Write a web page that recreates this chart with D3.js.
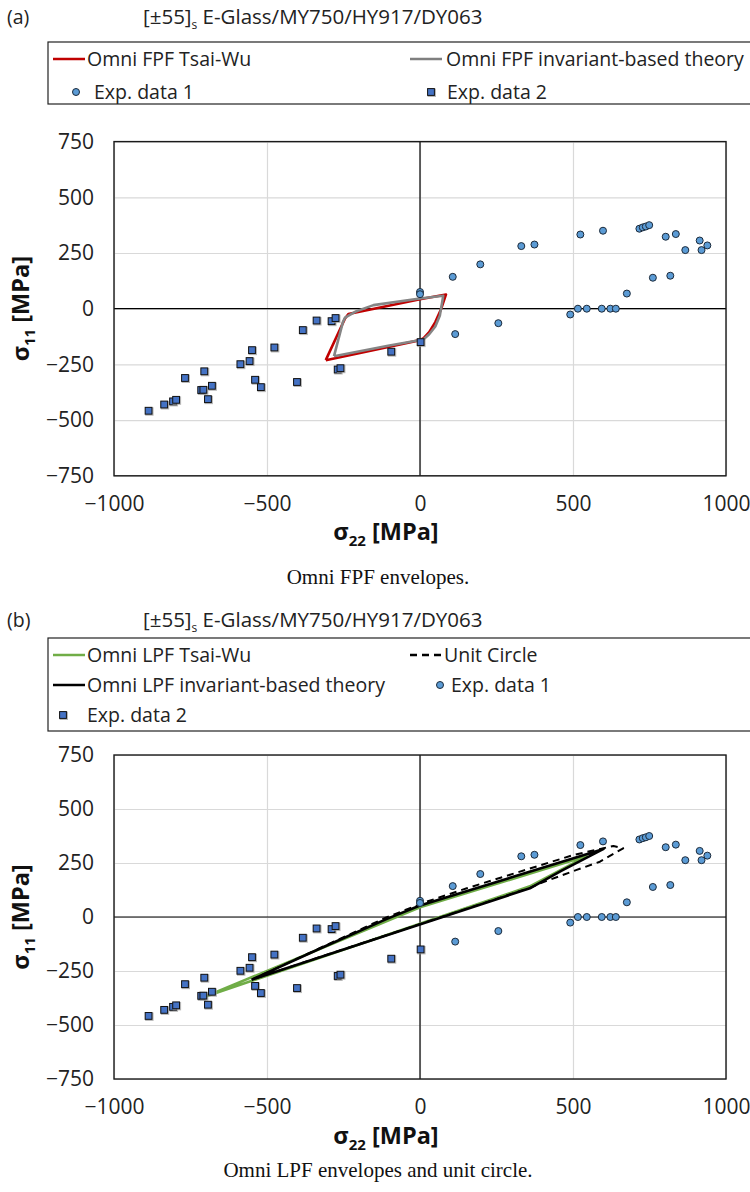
<!DOCTYPE html>
<html><head><meta charset="utf-8">
<script src="https://cdn.jsdelivr.net/npm/d3@7"></script>
<style>body{margin:0;background:#fff} svg{display:block}</style>
</head><body>
<script>
// Axis ticks (MPa)
const xTicks = [-1000, -500, 0, 500, 1000];
const yTicks = [-750, -500, -250, 0, 250, 500, 750];

// Experimental failure points [sigma22, sigma11]
const expData1 = [
  [0, 75], [0, 65], [107, 143], [197, 199], [331, 281], [374, 288], [524, 333], [598, 350],
  [717, 359], [728, 365], [738, 369], [749, 375], [803, 323], [836, 335], [867, 263],
  [914, 306], [920, 263], [939, 284], [761, 139], [818, 148], [676, 68], [491, -26],
  [516, 0], [545, 0], [594, 0], [622, 0], [640, 0], [256, -65], [115, -114]
];
const expData2 = [
  [-887, -458], [-836, -430], [-807, -416], [-797, -409], [-768, -311], [-705, -281],
  [-715, -365], [-708, -364], [-680, -346], [-693, -406], [-587, -249], [-557, -235],
  [-549, -186], [-539, -319], [-520, -352], [-476, -174], [-402, -329], [-383, -96],
  [-338, -53], [-289, -56], [-276, -42], [-269, -273], [-260, -267], [-94, -193], [2, -150]
];

// First-ply-failure envelopes
const fpfTsaiWu = [
  [-308, -231], [-245, -44], [-234, -24], [-150, 0], [0, 42], [85, 64], [68, -5],
  [50, -60], [30, -105], [12, -132], [0, -141], [-100, -171], [-200, -200], [-308, -231]
];
const fpfInvariant = [
  [-281, -213], [-252, -60], [-245, -40], [-212, -14], [-152, 16], [0, 46], [76, 58],
  [65, -30], [50, -80], [30, -115], [11, -138], [-100, -165], [-281, -213]
];

// Last-ply-failure envelopes
const lpfTsaiWu = [[-703, -369], [0, 45], [545, 282], [359, 142], [-703, -369]];
const lpfInvariant = [
  [-550, -290], [-330, -148], [-110, -10], [0, 53], [600, 315], [460, 212], [359, 133], [-550, -290]
];
const unitCircle = [
  [-550, -290], [-110, -2], [22, 71], [153, 133], [501, 287], [632, 329], [664, 318],
  [588, 256], [512, 218], [392, 156], [359, 135], [-550, -290]
];

const W = 750, H = 1192;
const svg = d3.select("body").append("svg").attr("width", W).attr("height", H);
svg.append("rect").attr("width", W).attr("height", H).attr("fill", "#fff");

const SANS = "'Open Sans', sans-serif";
const SERIF = "'Liberation Serif', 'Times New Roman', serif";
const fmt = d3.format("d");

function marker(g, type, cx, cy) {
  if (type === "circle") {
    g.append("circle").attr("cx", cx).attr("cy", cy).attr("r", 3.5)
      .attr("fill", "#5b9bd5").attr("stroke", "#1c2a3a").attr("stroke-width", 1);
  } else {
    const s = 6.8;
    g.append("rect").attr("x", cx - s / 2 + 0.8).attr("y", cy - s / 2 + 0.8).attr("width", s).attr("height", s)
      .attr("fill", "none").attr("stroke", "#9a9a9a").attr("stroke-width", 1.6).attr("opacity", 0.7);
    g.append("rect").attr("x", cx - s / 2).attr("y", cy - s / 2).attr("width", s).attr("height", s)
      .attr("fill", "#4472c4").attr("stroke", "#111").attr("stroke-width", 1);
  }
}

function drawPanel(p) {
  const x = d3.scaleLinear().domain([-1000, 1000]).range([114, 726]);
  const y = d3.scaleLinear().domain([-750, 750]).range([p.bottom, p.top]);
  const g = svg.append("g");

  // panel letter and title
  g.append("text").attr("x", 7).attr("y", p.titleY).attr("font-family", SANS).attr("font-size", 19.5)
    .attr("fill", "#222").text(p.letter);
  const t = g.append("text").attr("x", 143).attr("y", p.titleY).attr("font-family", SANS)
    .attr("font-size", 20.5).attr("fill", "#222");
  t.append("tspan").text("[±55]");
  t.append("tspan").attr("font-size", 12).attr("dy", 5).text("s");
  t.append("tspan").attr("dy", -5).text(" E-Glass/MY750/HY917/DY063");

  // legend box
  g.append("rect").attr("x", 48).attr("y", p.legTop).attr("width", 760).attr("height", p.legH)
    .attr("fill", "#fff").attr("stroke", "#222").attr("stroke-width", 1.2);
  p.legend.forEach(it => {
    const lg = g.append("g");
    if (it.kind === "line") {
      lg.append("line").attr("x1", it.x).attr("x2", it.x + 32).attr("y1", it.y).attr("y2", it.y)
        .attr("stroke", it.color).attr("stroke-width", 2.5)
        .attr("stroke-dasharray", it.dash || null);
    } else {
      marker(lg, it.kind, it.mx, it.y);
    }
    lg.append("text").attr("x", it.tx).attr("y", it.y).attr("dy", "0.35em")
      .attr("font-family", SANS).attr("font-size", 19.5).attr("fill", "#222").text(it.label);
  });

  // gridlines
  g.append("g").attr("transform", `translate(0,${p.bottom})`)
    .call(d3.axisBottom(x).tickValues(xTicks).tickSize(-(p.bottom - p.top)).tickFormat(""))
    .call(a => a.select(".domain").remove())
    .call(a => a.selectAll("line").attr("stroke", "#d9d9d9").attr("stroke-width", 1.2));
  g.append("g").attr("transform", "translate(114,0)")
    .call(d3.axisLeft(y).tickValues(yTicks).tickSize(-(726 - 114)).tickFormat(""))
    .call(a => a.select(".domain").remove())
    .call(a => a.selectAll("line").attr("stroke", "#d9d9d9").attr("stroke-width", 1.2));

  // zero axes
  g.append("line").attr("x1", x(0)).attr("x2", x(0)).attr("y1", p.top).attr("y2", p.bottom)
    .attr("stroke", "#000").attr("stroke-width", 1.2);
  g.append("line").attr("x1", 114).attr("x2", 726).attr("y1", y(0)).attr("y2", y(0))
    .attr("stroke", "#000").attr("stroke-width", 1.2);

  // plot frame
  g.append("rect").attr("x", 114).attr("y", p.top).attr("width", 612).attr("height", p.bottom - p.top)
    .attr("fill", "none").attr("stroke", "#1a1a1a").attr("stroke-width", 1.4);

  // tick labels
  g.append("g").attr("transform", `translate(0,${p.bottom})`)
    .call(d3.axisBottom(x).tickValues(xTicks).tickSize(0).tickPadding(20).tickFormat(fmt))
    .call(a => a.select(".domain").remove())
    .call(a => a.selectAll("text").attr("font-family", SANS).attr("font-size", 21).attr("fill", "#222"));
  g.append("g").attr("transform", "translate(114,0)")
    .call(d3.axisLeft(y).tickValues(yTicks).tickSize(0).tickPadding(20).tickFormat(fmt))
    .call(a => a.select(".domain").remove())
    .call(a => a.selectAll("text").attr("font-family", SANS).attr("font-size", 21).attr("fill", "#222"));

  // axis titles
  const xt = g.append("text").attr("x", 386).attr("y", p.xTitleY).attr("text-anchor", "middle")
    .attr("font-family", SANS).attr("font-weight", "bold").attr("font-size", 23.5).attr("fill", "#111");
  xt.append("tspan").text("σ");
  xt.append("tspan").attr("font-size", 15).attr("dy", 6).text("22");
  xt.append("tspan").attr("dy", -6).text(" [MPa]");
  const yt = g.append("text").attr("transform", `translate(29,${(p.top + p.bottom) / 2}) rotate(-90)`)
    .attr("text-anchor", "middle").attr("font-family", SANS).attr("font-weight", "bold")
    .attr("font-size", 23.5).attr("fill", "#111");
  yt.append("tspan").text("σ");
  yt.append("tspan").attr("font-size", 15).attr("dy", 6).text("11");
  yt.append("tspan").attr("dy", -6).text(" [MPa]");

  // envelopes
  const line = d3.line().x(d => x(d[0])).y(d => y(d[1]));
  p.curves.forEach(c => {
    g.append("path").attr("d", line(c.data)).attr("fill", "none").attr("stroke", c.color)
      .attr("stroke-width", c.width).attr("stroke-linejoin", "round")
      .attr("stroke-dasharray", c.dash || null);
  });

  // experimental points
  const m = g.append("g");
  expData1.forEach(d => marker(m, "circle", x(d[0]), y(d[1])));
  expData2.forEach(d => marker(m, "square", x(d[0]), y(d[1])));

  // caption
  g.append("text").attr("x", 378).attr("y", p.captionY).attr("text-anchor", "middle")
    .attr("font-family", SERIF).attr("font-size", 21).attr("fill", "#111").text(p.caption);
}

drawPanel({
  letter: "(a)", titleY: 24, legTop: 42, legH: 62,
  top: 141.6, bottom: 475.8, xTitleY: 540, captionY: 584,
  caption: "Omni FPF envelopes.",
  legend: [
    { kind: "line", x: 53, y: 59, tx: 87, color: "#c00000", label: "Omni FPF Tsai-Wu" },
    { kind: "line", x: 410, y: 59, tx: 446, color: "#7f7f7f", label: "Omni FPF invariant-based theory" },
    { kind: "circle", mx: 76, y: 92, tx: 94, label: "Exp. data 1" },
    { kind: "square", mx: 431, y: 92, tx: 447, label: "Exp. data 2" }
  ],
  curves: [
    { data: fpfTsaiWu, color: "#c00000", width: 2.6 },
    { data: fpfInvariant, color: "#858585", width: 2.6 }
  ]
});

drawPanel({
  letter: "(b)", titleY: 627, legTop: 638, legH: 93,
  top: 755, bottom: 1079, xTitleY: 1144, captionY: 1177,
  caption: "Omni LPF envelopes and unit circle.",
  legend: [
    { kind: "line", x: 53, y: 655, tx: 87, color: "#70ad47", label: "Omni LPF Tsai-Wu" },
    { kind: "line", x: 410, y: 655, tx: 444, color: "#000", dash: "7,5", label: "Unit Circle" },
    { kind: "line", x: 53, y: 685, tx: 87, color: "#000", label: "Omni LPF invariant-based theory" },
    { kind: "circle", mx: 440, y: 685, tx: 451, label: "Exp. data 1" },
    { kind: "square", mx: 63, y: 715, tx: 87, label: "Exp. data 2" }
  ],
  curves: [
    { data: lpfTsaiWu, color: "#70ad47", width: 2.6 },
    { data: unitCircle, color: "#000", width: 2, dash: "7,5" },
    { data: lpfInvariant, color: "#000", width: 2.6 }
  ]
});
</script>
</body></html>
